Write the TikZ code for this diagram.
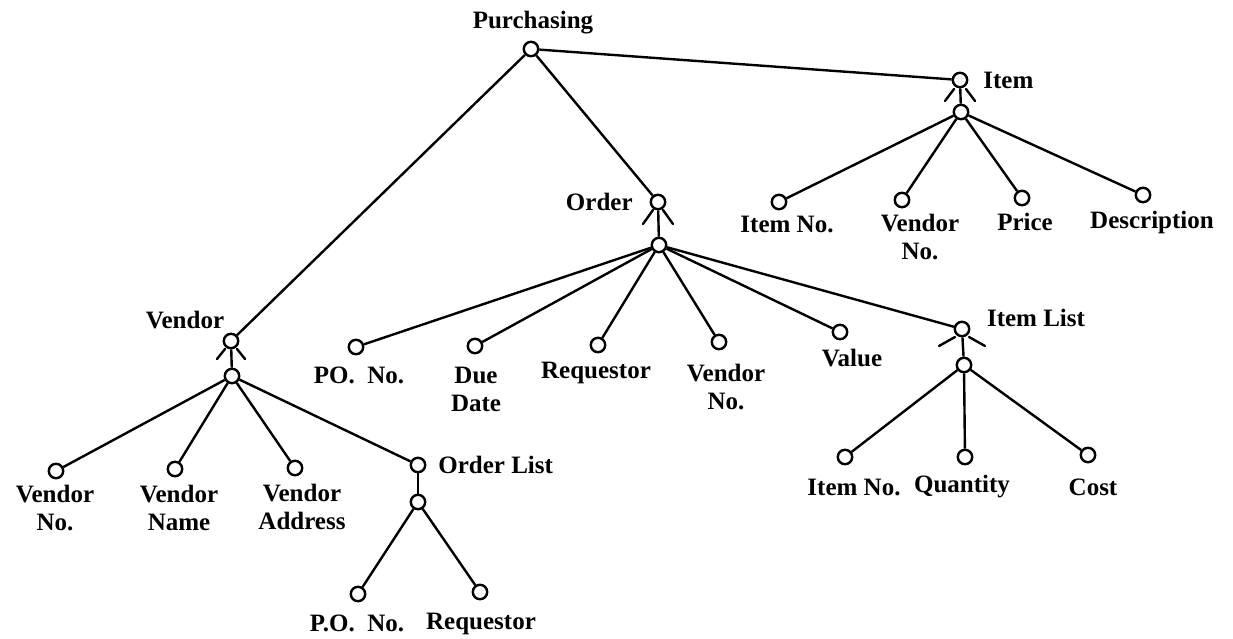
\documentclass[tikz,border=0pt]{standalone}
\usepackage{fontspec}
\setmainfont{Liberation Serif}
\newcommand\crowfoot[5]{%
  \draw[foot] ([shift={(-#2,#3)}]#1.center) -- ([shift={(-#4,#5)}]#1.center);
  \draw[foot] ([shift={(#2,#3)}]#1.center) -- ([shift={(#4,#5)}]#1.center);}
\begin{document}
\begin{tikzpicture}[x=0.5pt,y=-0.5pt,
  pt/.style={circle,draw,fill=white,line width=1.2pt,minimum size=7.2pt,inner sep=0pt},
  lbl/.style={font=\fontsize{12.5}{14}\selectfont\bfseries,align=center,inner sep=0pt},
  link/.style={line width=1.2pt},
  foot/.style={line width=1.2pt,line cap=round}]
\useasboundingbox (0,0) rectangle (1233,638);
% circles
\node[pt] (p) at (531,49) {};
\node[pt] (item) at (960,80) {};
\node[pt] (itemL) at (961,112) {};
\node[pt] (i1) at (779,202) {};
\node[pt] (i2) at (902,200) {};
\node[pt] (i3) at (1022,198) {};
\node[pt] (i4) at (1143,195) {};
\node[pt] (order) at (658,202) {};
\node[pt] (orderL) at (659,245) {};
\node[pt] (o1) at (356,347) {};
\node[pt] (o2) at (475,346) {};
\node[pt] (o3) at (598,345) {};
\node[pt] (o4) at (719,342) {};
\node[pt] (o5) at (840,332) {};
\node[pt] (il) at (962,329) {};
\node[pt] (ilL) at (964,365) {};
\node[pt] (il1) at (845,457) {};
\node[pt] (il2) at (965,457) {};
\node[pt] (il3) at (1088,455) {};
\node[pt] (v) at (231,341) {};
\node[pt] (vL) at (232,376) {};
\node[pt] (v1) at (56,471) {};
\node[pt] (v2) at (175,469) {};
\node[pt] (v3) at (295,468) {};
\node[pt] (ol) at (418,465) {};
\node[pt] (olL) at (418,502) {};
\node[pt] (ol1) at (358,594) {};
\node[pt] (ol2) at (480,592) {};
% connectors
\draw[link] (p) -- (item);
\draw[link] (p) -- (order);
\draw[link] (p) -- (v);
\draw[link] (item) -- (itemL);
\foreach \n in {i1,i2,i3,i4} \draw[link] (itemL) -- (\n);
\draw[link] (order) -- (orderL);
\foreach \n in {o1,o2,o3,o4,o5,il} \draw[link] (orderL) -- (\n);
\draw[link] (il) -- (ilL);
\foreach \n in {il1,il2,il3} \draw[link] (ilL) -- (\n);
\draw[link] (v) -- (vL);
\foreach \n in {v1,v2,v3,ol} \draw[link] (vL) -- (\n);
\draw[link] (ol) -- (olL);
\foreach \n in {ol1,ol2} \draw[link] (olL) -- (\n);
% crow's feet
\crowfoot{order}{5}{8}{15}{22}
\crowfoot{item}{6}{9}{15}{21}
\crowfoot{il}{7}{8}{23}{17}
\crowfoot{v}{6}{8}{14}{18}
% labels
\node[lbl] (lp) at (533,23) {Purchasing};
\node[lbl,anchor=west] (litem) at (983,80) {Item};
\node[lbl] (li1) at (787,224) {Item No.};
\node[lbl] (li2) at (920,237) {Vendor\\No.};
\node[lbl] (li3) at (1025,222) {Price};
\node[lbl] (li4) at (1152,222) {Description};
\node[lbl,anchor=east] (lorder) at (633,202) {Order};
\node[lbl] (lo1) at (359,375) {PO.\ \ No.};
\node[lbl] (lo2) at (476,389) {Due\\Date};
\node[lbl] (lo3) at (596,373) {Requestor};
\node[lbl] (lo4) at (726,387) {Vendor\\No.};
\node[lbl] (lo5) at (852,358) {Value};
\node[lbl] (lil) at (1036,318) {Item List};
\node[lbl] (lil1) at (854,487) {Item No.};
\node[lbl] (lil2) at (962,487) {Quantity};
\node[lbl] (lil3) at (1093,487) {Cost};
\node[lbl] (lv) at (185,320) {Vendor};
\node[lbl] (lv1) at (55,508) {Vendor\\No.};
\node[lbl] (lv2) at (179,508) {Vendor\\Name};
\node[lbl] (lv3) at (302,507) {Vendor\\Address};
\node[lbl,anchor=west] (lol) at (438,465) {Order List};
\node[lbl] (lol1) at (357,623) {P.O.\ \ No.};
\node[lbl] (lol2) at (481,624) {Requestor};
\end{tikzpicture}
\end{document}
